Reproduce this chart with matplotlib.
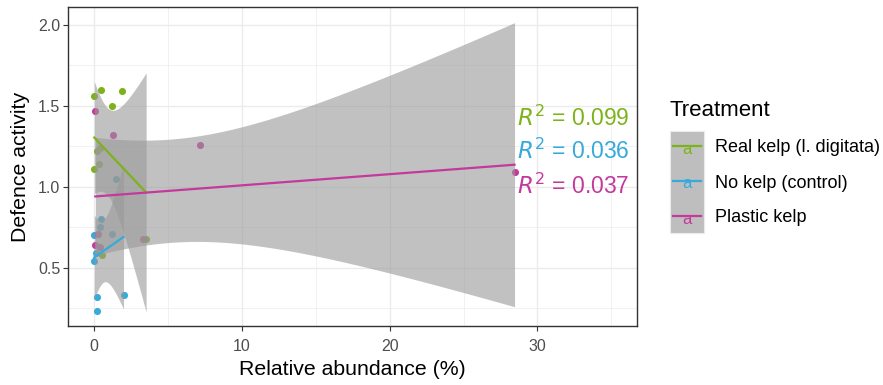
import numpy as np
import matplotlib.pyplot as plt
from matplotlib.patches import Rectangle
from matplotlib.lines import Line2D

plt.rcParams['font.family'] = ['Liberation Sans', 'DejaVu Sans']

treatments = ['Real kelp (l. digitata)', 'No kelp (control)', 'Plastic kelp']
colors = ['#7DB31A', '#35AADB', '#C4399C']
r2_labels = ['0.099', '0.036', '0.037']
r2_y = [1.42, 1.22, 1.005]

real_x = [0.0, 0.47, 1.87, 1.20, 0.0, 0.29, 0.18, 0.41, 3.51, 0.52]
real_y = [1.56, 1.60, 1.59, 1.50, 1.11, 1.14, 1.22, 1.24, 0.68, 0.58]
none_x = [0.45, 0.36, 0.0, 1.20, 1.49, 0.0, 0.14, 0.18, 1.98, 0.18]
none_y = [0.80, 0.75, 0.70, 0.71, 1.05, 0.54, 0.59, 0.32, 0.33, 0.23]
plastic_x = [0.07, 1.26, 0.07, 0.41, 0.25, 3.29, 7.16, 28.45]
plastic_y = [1.47, 1.32, 0.64, 0.63, 0.71, 0.68, 1.26, 1.09]

groups = [(real_x, real_y), (none_x, none_y), (plastic_x, plastic_y)]

# 97.5% t quantiles by degrees of freedom
t975 = {4: 2.776, 5: 2.571, 6: 2.447, 7: 2.365, 8: 2.306, 9: 2.262, 10: 2.228}

W, H = 883, 385
fig = plt.figure(figsize=(W / 100, H / 100), dpi=100)
ax = fig.add_axes([68 / W, 1 - 326 / H, (637 - 68) / W, (326 - 7) / H])

# points first, smooth ribbons on top (as ggplot does)
for (x, y), c in zip(groups, colors):
    ax.scatter(x, y, s=26, color=c, lw=0, zorder=2)

for (x, y), c in zip(groups, colors):
    x = np.asarray(x); y = np.asarray(y)
    n = len(x)
    b, a = np.polyfit(x, y, 1)
    xs = np.linspace(x.min(), x.max(), 80)
    fit = a + b * xs
    resid = y - (a + b * x)
    s = np.sqrt(np.sum(resid ** 2) / (n - 2))
    sxx = np.sum((x - x.mean()) ** 2)
    se = s * np.sqrt(1 / n + (xs - x.mean()) ** 2 / sxx)
    t = t975[n - 2]
    ax.fill_between(xs, fit - t * se, fit + t * se, color='#999999', alpha=0.6, lw=0, zorder=3)
    ax.plot(xs, fit, color=c, lw=1.6, zorder=4)

for lab, yy, c in zip(r2_labels, r2_y, colors):
    ax.text(28.6, yy, '$R^2$ = ' + lab, color=c, fontsize=16.5, ha='left', va='center', zorder=5)

ax.set_xlim(-1.78, 36.74)
ax.set_ylim(0.14, 2.11)
ax.set_xticks([0, 10, 20, 30])
ax.set_yticks([0.5, 1.0, 1.5, 2.0])
ax.set_yticklabels(['0.5', '1.0', '1.5', '2.0'])
ax.set_xticks([5, 15, 25, 35], minor=True)
ax.set_yticks([0.25, 0.75, 1.25, 1.75], minor=True)
ax.grid(which='major', color='#EBEBEB', lw=1.0, zorder=0)
ax.grid(which='minor', color='#EBEBEB', lw=0.5, zorder=0)
ax.set_axisbelow(True)
ax.tick_params(which='major', length=3.5, width=0.8, color='#333333', labelcolor='#4D4D4D', labelsize=11.5)
ax.tick_params(axis='x', pad=6)
ax.tick_params(axis='y', pad=2)
ax.tick_params(which='minor', length=0)
for sp in ax.spines.values():
    sp.set_color('#333333')
    sp.set_linewidth(1.0)
ax.set_xlabel('Relative abundance (%)', fontsize=15.3, labelpad=4)
ax.set_ylabel('Defence activity', fontsize=15.3, labelpad=6)

# legend drawn by hand to mimic the ggplot key (grey ribbon + line + "a")
def fx(px):
    return px / W

def fy(py):
    return 1 - py / H

fig.text(fx(670), fy(110), 'Treatment', fontsize=16, va='center', ha='left')
fig.add_artist(Rectangle((fx(670), fy(233)), fx(704) - fx(670), fy(131) - fy(233),
                         transform=fig.transFigure, facecolor='#BEBEBE', edgecolor='#EBEBEB', lw=0.8))
key_y = [148, 183, 218]
for lab, ky, c in zip(treatments, key_y, colors):
    fig.add_artist(Line2D([fx(673), fx(701)], [fy(ky - 2), fy(ky - 2)], transform=fig.transFigure, color=c, lw=1.6))
    fig.text(fx(687), fy(ky + 1), 'a', color=c, fontsize=12, ha='center', va='center')
    fig.text(fx(715), fy(ky), lab, fontsize=13, ha='left', va='center')

fig.savefig('out.png', dpi=100)
